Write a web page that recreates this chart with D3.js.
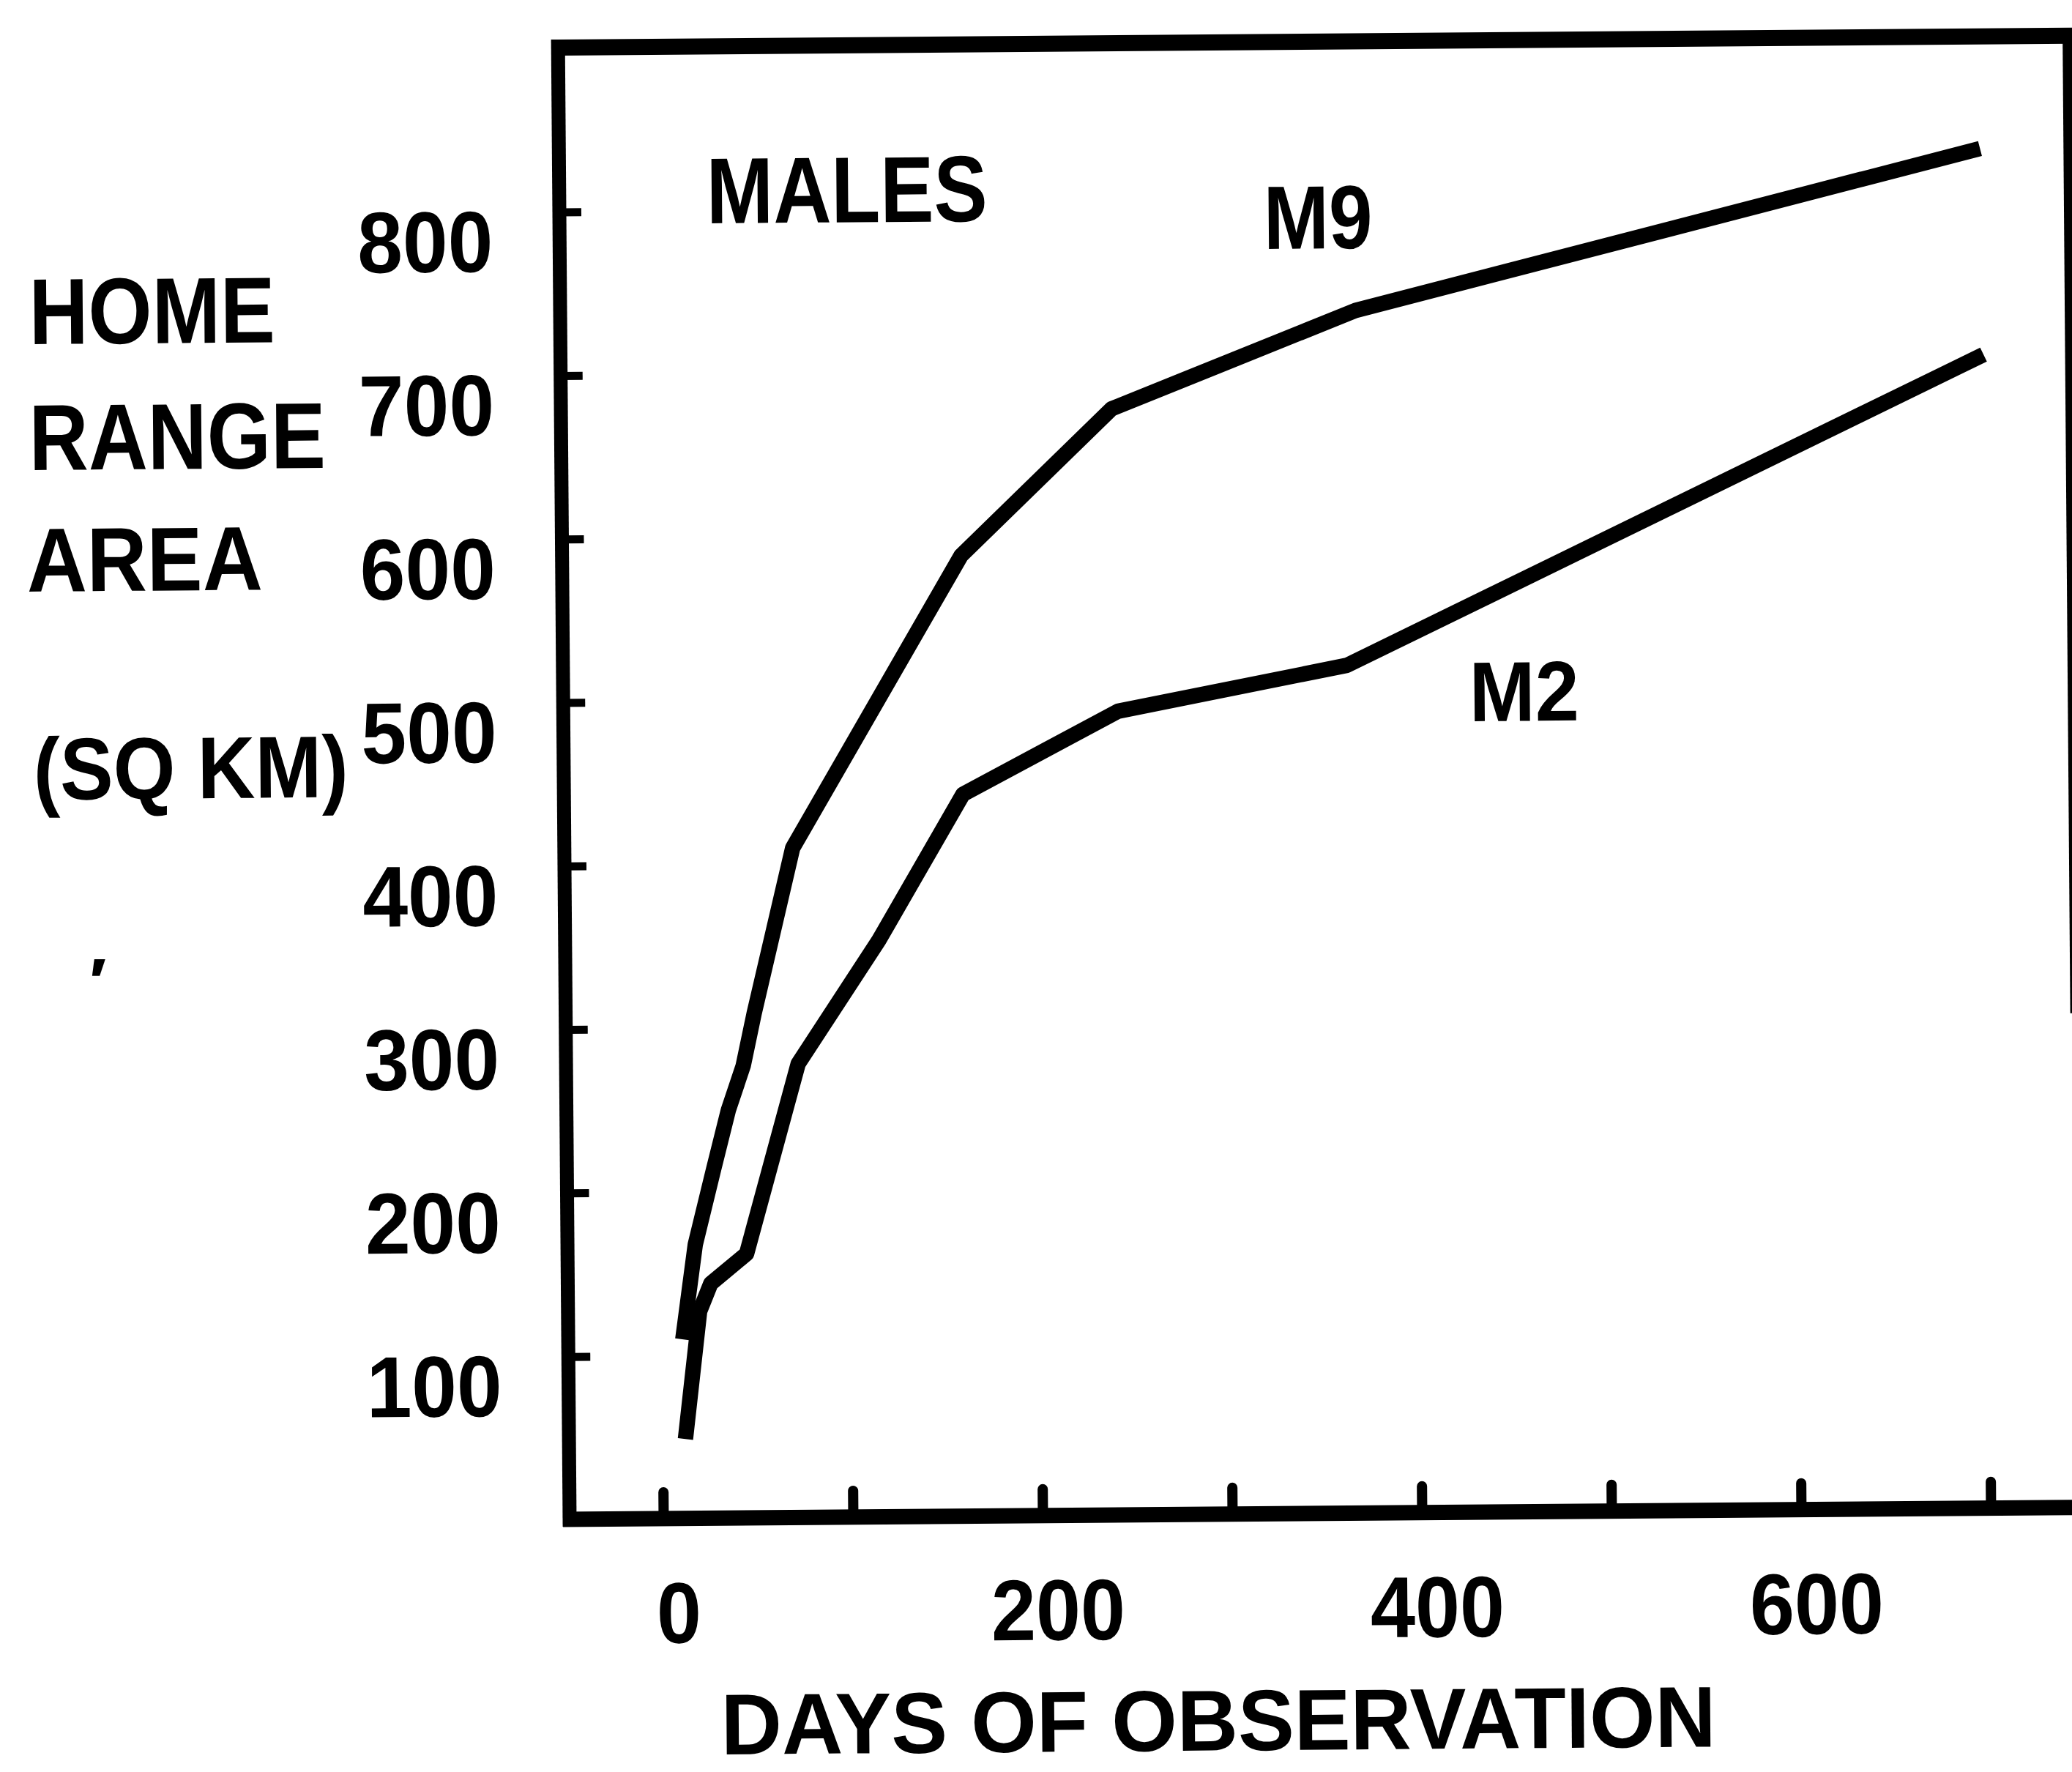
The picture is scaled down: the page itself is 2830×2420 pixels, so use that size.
<!DOCTYPE html>
<html>
<head>
<meta charset="utf-8">
<script src="https://cdn.jsdelivr.net/npm/d3@7"></script>
<style>
body { margin: 0; background: #fff; }
text { font-family: "Liberation Sans", Arial, Helvetica, sans-serif; font-weight: bold; fill: #000; }
</style>
</head>
<body>
<script>
// days of observation vs cumulative home range (sq km)
var m9Days = [11, 18, 28, 36, 44, 50, 71, 161, 241, 370, 700];
var m9Area = [110, 168, 214, 250, 277, 309, 410, 588, 677, 736, 832];
var m2Days = [12, 20, 26, 45, 73, 116, 161, 243, 364, 701];
var m2Area = [49, 127, 144, 162, 278, 353, 442, 492, 519, 706];

var xTicks = [0, 100, 200, 300, 400, 500, 600, 700];
var xLabels = [0, 200, 400, 600];
var yTicks = [100, 200, 300, 400, 500, 600, 700, 800];
var yTitle = ['HOME', 'RANGE', 'AREA', '(SQ KM)'];

var W = 2830, H = 2420;
// the scanned figure sits slightly tilted
var ang = -0.45, cx = 770, cy = 2076;

var svg = d3.select('body')
			.append('svg')
			.attr('width', W)
			.attr('height', H);

svg.append('rect').attr('width', W).attr('height', H).attr('fill', '#fff');

var g = svg.append('g')
			.attr('transform', 'rotate(' + ang + ',' + cx + ',' + cy + ')');

// screen position -> position inside the tilted group
function unrot(px, py) {
	var r = -ang * Math.PI / 180;
	var dx = px - cx, dy = py - cy;
	return [cx + dx * Math.cos(r) - dy * Math.sin(r), cy + dx * Math.sin(r) + dy * Math.cos(r)];
}

var x = d3.scaleLinear().domain([0, 700]).range([906, 2719]);
var y = d3.scaleLinear().domain([0, 800]).range([2076, 289.6]);

// frame
var axX = 778, axTop = 65, axBot = 2075;
g.append('line').attr('x1', axX).attr('x2', axX).attr('y1', axTop - 11).attr('y2', axBot + 10)
	.attr('stroke', '#000').attr('stroke-width', 19);
g.append('line').attr('x1', axX - 9).attr('x2', 2860).attr('y1', axTop).attr('y2', axTop)
	.attr('stroke', '#000').attr('stroke-width', 22);
g.append('line').attr('x1', axX - 9).attr('x2', 2860).attr('y1', axBot).attr('y2', axBot)
	.attr('stroke', '#000').attr('stroke-width', 21);
g.append('line').attr('x1', 2840).attr('x2', 2840).attr('y1', axTop).attr('y2', 1400)
	.attr('stroke', '#000').attr('stroke-width', 14);

// y axis: inward ticks, labels sitting just under each tick
var yAxis = g.append('g')
			.attr('transform', 'translate(' + axX + ',0)')
			.style('color', '#000')
			.call(d3.axisLeft(y).tickValues(yTicks).tickSize(-30).tickPadding(91));
yAxis.select('.domain').remove();
yAxis.selectAll('line').attr('stroke-width', 11);
yAxis.selectAll('text')
	.attr('font-size', 118)
	.attr('font-family', null)
	.attr('dy', '0.68em')
	.attr('textLength', 185)
	.attr('lengthAdjust', 'spacingAndGlyphs');

// x axis: short upward ticks
var xAxis = g.append('g')
			.attr('transform', 'translate(0,' + axBot + ')')
			.style('color', '#000')
			.call(d3.axisBottom(x).tickValues(xTicks).tickSize(-36).tickPadding(86)
				.tickFormat(function(d){ return xLabels.indexOf(d) >= 0 ? d : ''; }));
xAxis.select('.domain').remove();
xAxis.selectAll('line').attr('stroke-width', 14).attr('stroke-linecap', 'round');
xAxis.selectAll('text')
	.filter(function(d){ return xLabels.indexOf(d) >= 0; })
	.attr('font-size', 118)
	.attr('font-family', null)
	.attr('dx', 20)
	.attr('textLength', function(d){ return String(d).length * 61; })
	.attr('lengthAdjust', 'spacingAndGlyphs');

// curves
var line = d3.line()
			.x(function(d){ return x(d[0]); })
			.y(function(d){ return y(d[1]); });

g.selectAll('path.curve')
	.data([d3.zip(m9Days, m9Area), d3.zip(m2Days, m2Area)])
	.enter()
	.append('path')
	.attr('class', 'curve')
	.attr('d', line)
	.attr('fill', 'none')
	.attr('stroke', '#000')
	.attr('stroke-width', 21)
	.attr('stroke-linejoin', 'round');

// texts, positioned by where they appear on the page
var labels = [
	{t: yTitle[0], x: 40, y: 470, s: 128, w: 336},
	{t: yTitle[1], x: 40, y: 642, s: 128, w: 405},
	{t: yTitle[2], x: 37, y: 808, s: 124, w: 322},
	{t: yTitle[3], x: 46, y: 1092, s: 120, w: 430},
	{t: 'MALES', x: 965, y: 305, s: 128, w: 384},
	{t: 'M9', x: 1726, y: 340, s: 123, w: 149},
	{t: 'M2', x: 2007, y: 985, s: 116, w: 150},
	{t: 'DAYS OF OBSERVATION', x: 985, y: 2396, s: 118, w: 1359},
	{t: '\u2032', x: 122, y: 1372, s: 90, w: 24}
];

g.selectAll('text.lab')
	.data(labels)
	.enter()
	.append('text')
	.attr('class', 'lab')
	.attr('x', function(d){ return unrot(d.x, d.y)[0]; })
	.attr('y', function(d){ return unrot(d.x, d.y)[1]; })
	.attr('font-size', function(d){ return d.s; })
	.attr('textLength', function(d){ return d.w; })
	.attr('lengthAdjust', 'spacingAndGlyphs')
	.text(function(d){ return d.t; });
</script>
</body>
</html>
